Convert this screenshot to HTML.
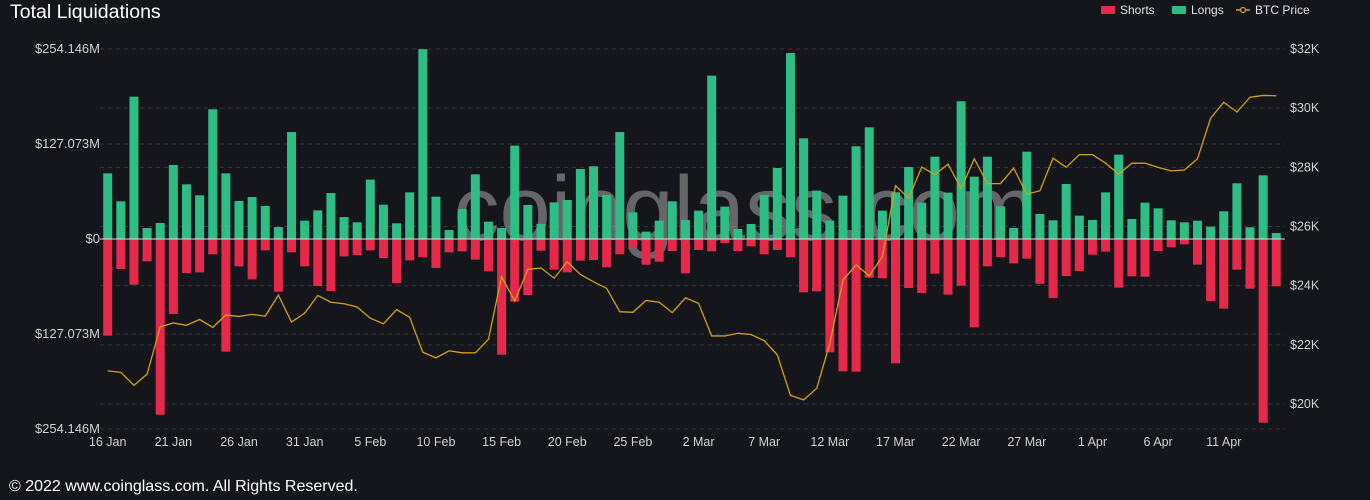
<!DOCTYPE html>
<html><head><meta charset="utf-8">
<style>
html,body{margin:0;padding:0;background:#15161b;}
body{width:1370px;height:500px;overflow:hidden;font-family:"Liberation Sans",sans-serif;position:relative;}
#title{position:absolute;left:10px;top:1px;font-size:19.5px;color:#fff;}
#footer{position:absolute;left:9px;top:478px;font-size:16px;color:#fff;}
svg{position:absolute;left:0;top:0;}
</style></head>
<body>
<div id="title">Total Liquidations</div>
<svg id="chart" width="1370" height="500"></svg>
<div id="footer">© 2022 www.coinglass.com. All Rights Reserved.</div>
<script>
const xLabels=["16 Jan","21 Jan","26 Jan","31 Jan","5 Feb","10 Feb","15 Feb","20 Feb","25 Feb","2 Mar","7 Mar","12 Mar","17 Mar","22 Mar","27 Mar","1 Apr","6 Apr","11 Apr"];
const leftTicks=[254.146,127.073,0,-127.073,-254.146];
const leftTickLabels=["$254.146M","$127.073M","$0","$127.073M","$254.146M"];
const rightTicks=[20,22,24,26,28,30,32];
const longs=[87.8,50.4,190.4,14.7,21.4,99,73.1,58.4,173.5,87.8,50.8,56.2,44.1,16,143.1,24.5,38.3,61.5,29.4,22.3,79.4,45.9,21,62.4,254,56.6,12,40.1,86.5,
23.2,14.7,124.9,45.5,20.1,49,52.2,93.6,97.2,58.9,143.1,35.7,9.8,24.5,50.4,25.4,37.9,218.5,43.3,13.4,20.1,58.9,95,248.8,134.7,64.7,24.5,58,124,149.4,
37.9,62.4,96.3,48.6,110.1,62,184.2,83.4,110.1,43.7,14.7,116.8,33.4,25,73.6,31.2,25.4,62.4,112.8,26.8,48.6,41,25,22.3,24.5,16.5,37,74.5,15.6,85.2,8];
const shorts=[129.3,40.1,61.1,29.9,235,100.3,45.5,44.6,20.5,150.7,36.6,54,15.2,70.5,17.8,36.6,62.9,69.6,23.2,21.4,15.2,25.4,58.9,28.5,24.1,38.8,17.8,16.5,27.6,
43.3,154.7,83.8,74.9,15.6,41,44.6,29,28.1,37.9,20.5,11.1,34.3,30.3,16.1,45.9,14.7,16.5,5.4,16.1,9.8,20.5,14.7,24.5,71.3,70,151.6,177,177.5,51.7,
52.6,166.3,65.5,72.2,46.4,74.5,62.4,118.2,36.6,24.1,32.6,26.3,59.8,78.9,49.5,42.8,21,16.9,65.1,49.9,50.4,16.1,11.1,7.1,34.3,82.9,93.2,41,66.4,245.7,63.3];
const price=[21.12,21.07,20.63,21.01,22.61,22.74,22.66,22.86,22.59,23.01,22.96,23.03,22.97,23.68,22.77,23.07,23.67,23.44,23.39,23.28,22.90,22.71,23.19,22.93,21.75,21.56,21.80,21.73,21.73,22.19,
24.30,23.48,24.55,24.60,24.25,24.81,24.38,24.13,23.91,23.12,23.10,23.50,23.44,23.09,23.59,23.40,22.30,22.30,22.39,22.35,22.14,21.66,20.29,20.14,20.53,22.05,24.19,24.70,24.33,
24.98,27.38,26.95,28.01,27.75,28.11,27.28,28.29,27.45,27.45,27.97,27.09,27.21,28.31,28.00,28.43,28.43,28.14,27.77,28.14,28.14,28.00,27.88,27.91,28.29,29.66,30.20,29.87,30.37,30.43,30.42];

const NS="http://www.w3.org/2000/svg";
const svg=document.getElementById('chart');
const X0=107.7, DX=13.13, Y0=239, PXM=190/254.146;
const xs=i=>X0+i*DX;
const yL=v=>Y0-v*PXM;
const yR=p=>404-(p-20)*(355/12);
function mk(tag,attrs,parent){const e=document.createElementNS(NS,tag);for(const k in attrs)e.setAttribute(k,attrs[k]);(parent||svg).appendChild(e);return e;}

const grid=mk('g',{});


leftTicks.forEach(v=>{if(v!==0)mk('line',{x1:100,x2:1285,y1:yL(v),y2:yL(v),stroke:'#33353c','stroke-dasharray':'4,4','stroke-width':1},grid);});
rightTicks.forEach(p=>{mk('line',{x1:100,x2:1285,y1:yR(p),y2:yR(p),stroke:'#33353c','stroke-dasharray':'4,4','stroke-width':1},grid);});

const wm=mk('text',{x:745,y:240,'text-anchor':'middle','font-size':92,fill:'rgba(215,215,215,0.42)','font-family':'Liberation Sans, sans-serif'});
wm.textContent='coinglass.com';



longs.forEach((v,i)=>{
 const r=mk('rect',{x:xs(i)-4.5,y:yL(v),width:9,height:Y0-yL(v),fill:'#2ebd85'});
 
 
});
shorts.forEach((v,i)=>{
 const r=mk('rect',{x:xs(i)-4.5,y:Y0,width:9,height:v*PXM,fill:'#e6294b'});
 
 
});
const zl=mk('line',{x1:100,x2:1285,y1:Y0,y2:Y0,stroke:'#ddd','stroke-width':1});



const pl=mk('polyline',{points:price.map((p,i)=>xs(i)+','+yR(p)).join(' '),fill:'none',stroke:'#d4a015','stroke-width':1.3});



leftTicks.forEach((v,i)=>{
 const t=mk('text',{x:100,y:yL(v)+4,'text-anchor':'end','font-size':13,fill:'#d0d0d0'});
 t.textContent=leftTickLabels[i];
 
 
});
rightTicks.forEach(p=>{
 const t=mk('text',{x:1290,y:yR(p)+4,'text-anchor':'start','font-size':12.5,fill:'#d0d0d0'});
 t.textContent='$'+p+'K';
 
 
});
xLabels.forEach((l,i)=>{
 const t=mk('text',{x:xs(i*5),y:446,'text-anchor':'middle','font-size':12.5,fill:'#d0d0d0'});
 t.textContent=l;
 
 
});

const lg=mk('g',{});


const items=[["Shorts","#e6294b",1101,"rect"],["Longs","#2ebd85",1172,"rect"],["BTC Price","#d4a015",1236,"line"]];
items.forEach(it=>{
 const g=mk('g',{},lg);
 
 
 if(it[3]==='rect')mk('rect',{x:it[2],y:6,width:14,height:8,fill:it[1],rx:1},g);
 else{mk('line',{x1:it[2],x2:it[2]+14,y1:10,y2:10,stroke:it[1],'stroke-width':1.5},g);mk('circle',{cx:it[2]+7,cy:10,r:2.5,fill:'#15161b',stroke:it[1],'stroke-width':1.3},g);}
 const t=mk('text',{x:it[2]+19,y:14,'font-size':12,fill:'#e0e0e0'},g);
 t.textContent=it[0];
});
</script>
</body></html>
